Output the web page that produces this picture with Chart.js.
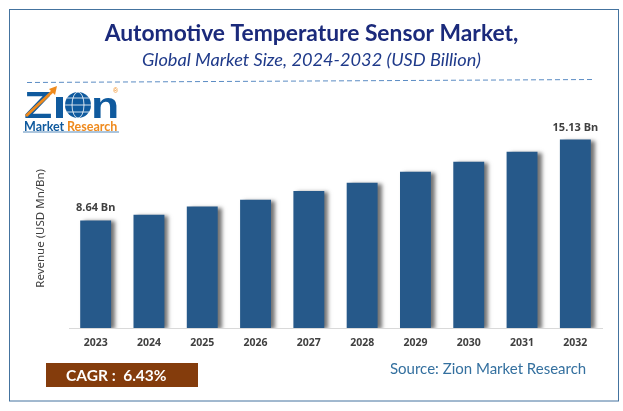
<!DOCTYPE html>
<html>
<head>
<meta charset="utf-8">
<style>
html, body { margin: 0; padding: 0; background: #fff; overflow: hidden; }
canvas { display: block; }
</style>
<script src="https://cdn.jsdelivr.net/npm/chart.js@4"></script>
</head>
<body>
<canvas id="chart1" width="623" height="411"></canvas>
<script>
const years = ['2023', '2024', '2025', '2026', '2027', '2028', '2029', '2030', '2031', '2032']
const revenue = [8.64, 9.1, 9.75, 10.3, 11.0, 11.67, 12.55, 13.35, 14.15, 15.13]
const valueLabels = ['8.64 Bn', '', '', '', '', '', '', '', '', '15.13 Bn']

const barColor = '#26598a'
const navy = '#1b2a7b'
const zionBlue = '#0f5a9e'
const zionOrange = '#ef8a1d'

// shadow on the right and lower side of the bars
const barShadow = {
	id: 'barShadow',
	beforeDatasetDraw(chart) {
		const ctx = chart.ctx
		ctx.save()
		ctx.shadowColor = 'rgba(0, 0, 0, 0.55)'
		ctx.shadowBlur = 4
		ctx.shadowOffsetX = 4
		ctx.shadowOffsetY = 1
	},
	afterDatasetDraw(chart) {
		chart.ctx.restore()
	},
}

const valueText = {
	id: 'valueText',
	afterDatasetsDraw(chart) {
		const ctx = chart.ctx
		ctx.save()
		ctx.font = 'bold 11px "Noto Sans"'
		ctx.fillStyle = '#404040'
		ctx.textAlign = 'center'
		chart.getDatasetMeta(0).data.forEach((bar, i) => {
			ctx.fillText(valueLabels[i], bar.x, bar.y - 9)
		})
		ctx.restore()
	},
}

function stretchedLetter(ctx, letter, x, y, size, stretch) {
	ctx.save()
	ctx.translate(x, y)
	ctx.scale(stretch, 1)
	ctx.font = `bold ${size}px "Liberation Sans"`
	ctx.fillText(letter, 0, 0)
	ctx.restore()
}

function drawLogo(ctx) {
	ctx.save()
	ctx.textBaseline = 'alphabetic'
	ctx.textAlign = 'left'
	ctx.fillStyle = zionBlue
	stretchedLetter(ctx, 'Z', 24, 118, 37, 1.25)
	ctx.fillRect(56, 97, 7, 21)
	stretchedLetter(ctx, 'n', 91, 118, 37, 1.25)

	// globe
	ctx.beginPath()
	ctx.arc(78, 105, 13, 0, Math.PI * 2)
	ctx.fill()
	ctx.strokeStyle = '#fff'
	ctx.lineWidth = 0.8
	ctx.beginPath()
	ctx.ellipse(78, 105, 6, 13, 0, 0, Math.PI * 2)
	ctx.moveTo(65, 105)
	ctx.lineTo(91, 105)
	ctx.moveTo(67, 98)
	ctx.lineTo(89, 98)
	ctx.moveTo(67, 112)
	ctx.lineTo(89, 112)
	ctx.stroke()

	// arrow through the Z
	ctx.strokeStyle = zionOrange
	ctx.lineWidth = 3
	ctx.beginPath()
	ctx.moveTo(26, 116)
	ctx.lineTo(54, 90)
	ctx.stroke()
	ctx.fillStyle = zionOrange
	ctx.beginPath()
	ctx.moveTo(57, 86)
	ctx.lineTo(49, 89)
	ctx.lineTo(55, 95)
	ctx.fill()
	ctx.font = '7px "Liberation Sans"'
	ctx.fillText('®', 113, 93)

	ctx.font = 'bold 12.5px "Lato"'
	ctx.fillStyle = zionBlue
	ctx.fillText('Market', 24, 131)
	ctx.fillStyle = zionOrange
	ctx.fillText('Research', 67, 131)
	ctx.strokeStyle = zionBlue
	ctx.lineWidth = 0.7
	ctx.beginPath()
	ctx.moveTo(23, 132)
	ctx.lineTo(119, 132)
	ctx.stroke()
	ctx.restore()
}

const decorations = {
	id: 'decorations',
	beforeDraw(chart) {
		const ctx = chart.ctx
		ctx.save()
		ctx.fillStyle = '#fff'
		ctx.fillRect(0, 0, chart.width, chart.height)

		// frame
		ctx.strokeStyle = '#44739f'
		ctx.lineWidth = 1
		ctx.strokeRect(9.5, 9.5, 609, 391.5)

		// dashed line under the title
		ctx.strokeStyle = '#5b8cc4'
		ctx.setLineDash([5, 3])
		ctx.beginPath()
		ctx.moveTo(27, 82.5)
		ctx.lineTo(595, 79.5)
		ctx.stroke()
		ctx.setLineDash([])

		drawLogo(ctx)

		// CAGR box and source
		ctx.fillStyle = '#843c0c'
		ctx.fillRect(46, 363, 152, 24)
		ctx.fillStyle = '#fff'
		ctx.font = 'bold 15.5px "Lato"'
		ctx.textAlign = 'left'
		ctx.textBaseline = 'middle'
		ctx.fillText('CAGR :  6.43%', 66, 376)
		ctx.fillStyle = '#34709f'
		ctx.font = '15px "Lato"'
		ctx.fillText('Source: Zion Market Research', 390, 369)
		ctx.restore()
	},
}

const chartData = {
	labels: years,
	datasets: [
		{
			data: revenue,
			backgroundColor: barColor,
			categoryPercentage: 1,
			barPercentage: 0.58,
		},
	],
}

const optionsData = {
	responsive: false,
	animation: false,
	layout: {
		padding: { left: 21, right: 21, top: 0, bottom: 0 },
	},
	plugins: {
		legend: { display: false },
		tooltip: { enabled: false },
		title: {
			display: true,
			text: 'Automotive Temperature Sensor Market,',
			color: navy,
			font: { family: 'Lato', size: 22.8, weight: 'bold' },
			padding: { top: 20, bottom: 2 },
		},
		subtitle: {
			display: true,
			text: 'Global Market Size, 2024-2032 (USD Billion)',
			color: '#1f3a8a',
			font: { family: 'Lato', size: 18.2, style: 'italic', weight: 'normal' },
			padding: { top: 0, bottom: 57.5 },
		},
	},
	scales: {
		x: {
			afterFit(scale) {
				scale.height = 83
			},
			grid: { display: false },
			border: { color: '#d9d9d9' },
			ticks: {
				color: '#404040',
				padding: 1,
				font: { family: 'Noto Sans', size: 10.5, weight: 'bold' },
				maxRotation: 0,
			},
		},
		y: {
			min: 0,
			max: 16,
			afterFit(scale) {
				scale.width = 48
			},
			grid: { display: false },
			border: { display: false },
			ticks: { display: false },
			title: {
				display: true,
				text: 'Revenue (USD Mn/Bn)',
				color: '#404040',
				padding: { top: 13, bottom: 0 },
				font: { family: 'Noto Sans', size: 11.5 },
			},
		},
	},
}

new Chart('chart1', {
	type: 'bar',
	data: chartData,
	options: optionsData,
	plugins: [decorations, barShadow, valueText],
})
</script>
</body>
</html>
